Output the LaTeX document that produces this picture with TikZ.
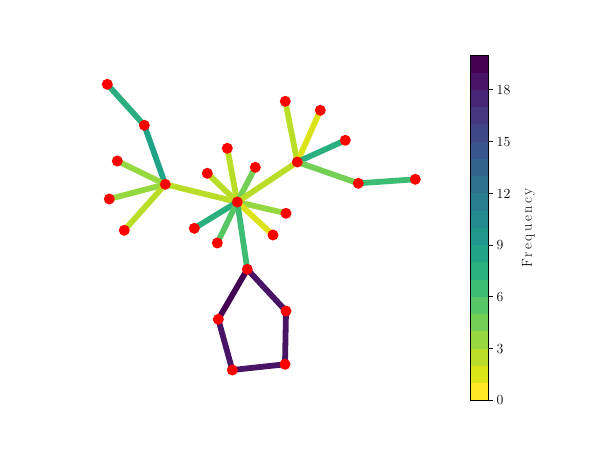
\documentclass[tikz,border=0pt]{standalone}
\usepackage{fontspec}
\newfontfamily\cbfam[LetterSpace=17]{Latin Modern Roman}
\pgfdeclarelayer{bg}
\pgfsetlayers{bg,main}
\newcommand\mylblfont{\fontsize{13.9pt}{16.7pt}\selectfont}
\newcommand\mycbfont{\cbfam\fontsize{14.5pt}{17pt}\selectfont}
\definecolor{f0}{RGB}{253,231,37}
\definecolor{f1}{RGB}{221,227,25}
\definecolor{f2}{RGB}{186,222,40}
\definecolor{f3}{RGB}{150,216,63}
\definecolor{f4}{RGB}{116,208,85}
\definecolor{f5}{RGB}{87,199,102}
\definecolor{f6}{RGB}{61,188,116}
\definecolor{f7}{RGB}{42,176,127}
\definecolor{f8}{RGB}{32,163,134}
\definecolor{f9}{RGB}{31,151,139}
\definecolor{f10}{RGB}{35,138,141}
\definecolor{f11}{RGB}{40,125,142}
\definecolor{f12}{RGB}{45,112,142}
\definecolor{f13}{RGB}{51,99,141}
\definecolor{f14}{RGB}{57,86,140}
\definecolor{f15}{RGB}{64,71,136}
\definecolor{f16}{RGB}{69,55,129}
\definecolor{f17}{RGB}{72,38,119}
\definecolor{f18}{RGB}{71,20,102}
\definecolor{f19}{RGB}{68,1,84}
\tikzset{
  vtx/.style={circle, fill=red, draw=none, minimum size=11pt, inner sep=0pt},
  edgeline/.style={line width=5.8pt},
  lbl/.style={font=\mylblfont, inner sep=0pt}
}
\begin{document}
\begin{tikzpicture}[x=1pt,y=-1pt]
\useasboundingbox (0,0) rectangle (600,450);
% nodes
\node[vtx] (na) at (107.3,84.3) {};
\node[vtx] (nb) at (144.3,125.3) {};
\node[vtx] (h1) at (165.3,184.3) {};
\node[vtx] (nc) at (117.3,161) {};
\node[vtx] (nd) at (109.3,199) {};
\node[vtx] (ne) at (124.3,230.3) {};
\node[vtx] (h2) at (237.3,202) {};
\node[vtx] (ng) at (227.3,148.3) {};
\node[vtx] (ni) at (207.3,173.3) {};
\node[vtx] (nj) at (255.3,167.3) {};
\node[vtx] (nk) at (286,213.3) {};
\node[vtx] (nl) at (273,235) {};
\node[vtx] (nm) at (194.3,228.3) {};
\node[vtx] (nn) at (217.3,243) {};
\node[vtx] (np) at (247.3,269.3) {};
\node[vtx] (h3) at (297.3,162) {};
\node[vtx] (nq) at (285.3,101.3) {};
\node[vtx] (nr) at (320.3,110.3) {};
\node[vtx] (ns) at (345.3,140.3) {};
\node[vtx] (nt) at (358.3,183.3) {};
\node[vtx] (nu) at (415.3,179.3) {};
\node[vtx] (nv) at (286,311) {};
\node[vtx] (nw) at (218.3,319.3) {};
\node[vtx] (nx) at (285,364.3) {};
\node[vtx] (ny) at (232.3,370) {};
% edges
\begin{pgfonlayer}{bg}
\draw[edgeline, f7] (na.center) -- (nb.center);
\draw[edgeline, f8] (nb.center) -- (h1.center);
\draw[edgeline, f3] (h1.center) -- (nc.center);
\draw[edgeline, f3] (h1.center) -- (nd.center);
\draw[edgeline, f2] (h1.center) -- (ne.center);
\draw[edgeline, f2] (h1.center) -- (h2.center);
\draw[edgeline, f2] (h2.center) -- (ng.center);
\draw[edgeline, f2] (h2.center) -- (ni.center);
\draw[edgeline, f4] (h2.center) -- (nj.center);
\draw[edgeline, f3] (h2.center) -- (nk.center);
\draw[edgeline, f1] (h2.center) -- (nl.center);
\draw[edgeline, f7] (h2.center) -- (nm.center);
\draw[edgeline, f5] (h2.center) -- (nn.center);
\draw[edgeline, f6] (h2.center) -- (np.center);
\draw[edgeline, f2] (h2.center) -- (h3.center);
\draw[edgeline, f2] (h3.center) -- (nq.center);
\draw[edgeline, f1] (h3.center) -- (nr.center);
\draw[edgeline, f7] (h3.center) -- (ns.center);
\draw[edgeline, f4] (h3.center) -- (nt.center);
\draw[edgeline, f6] (nt.center) -- (nu.center);
\draw[edgeline, f19] (np.center) -- (nw.center);
\draw[edgeline, f18] (np.center) -- (nv.center);
\draw[edgeline, f18] (nw.center) -- (ny.center);
\draw[edgeline, f18] (ny.center) -- (nx.center);
\draw[edgeline, f18] (nx.center) -- (nv.center);
\end{pgfonlayer}
% colorbar
\foreach \k in {0,...,19}{
  \fill[fill=f\k] (470.7,{400.5-17.26*\k}) rectangle (488.7,{400.5-17.26*(\k+1)});
}
\draw[line width=1pt] (470.7,400.5) rectangle (488.7,{400.5-17.26*20});
\foreach \v in {0,3,...,18}{
  \draw[line width=1pt] (488.7,{400.5-17.26*\v}) -- (492.9,{400.5-17.26*\v});
  \node[lbl, anchor=west] (t\v) at (496.5,{400.5-17.26*\v}) {\v};
}
\node[lbl, font=\mycbfont, rotate=90] (cblabel) at (528.5,227.7) {Frequency};
\end{tikzpicture}
\end{document}
